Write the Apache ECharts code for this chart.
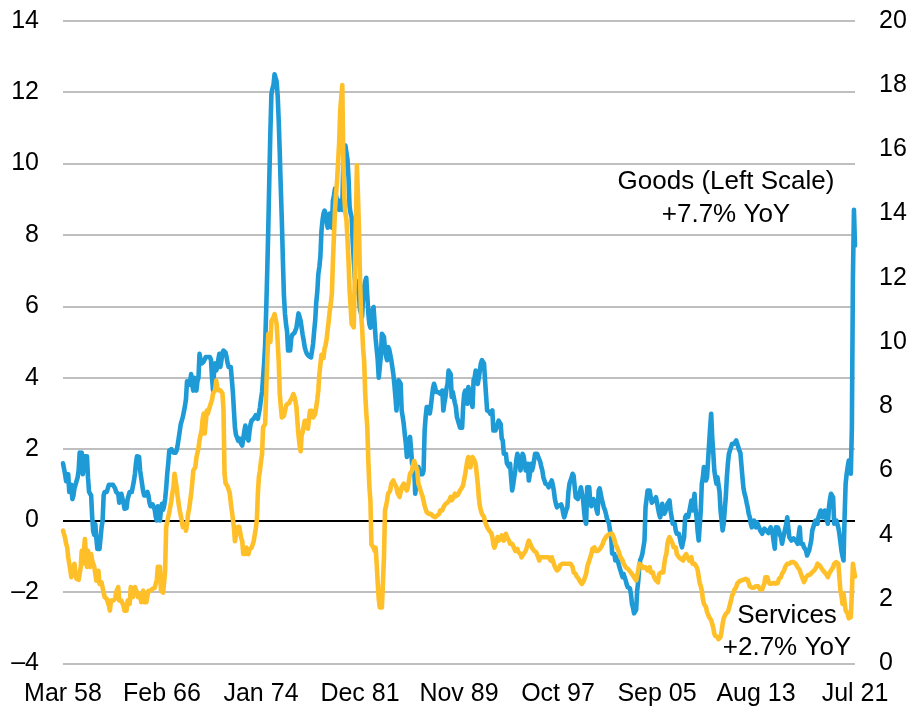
<!DOCTYPE html>
<html><head><meta charset="utf-8">
<script src="https://cdn.jsdelivr.net/npm/echarts@6/dist/echarts.min.js"></script>
<style>html,body{margin:0;padding:0;background:#fff}#c{width:911px;height:710px}</style>
</head><body><div id="c"></div>
<script>
const startYear = 1958, startMonth = 2; // March
const monthNames = ['Jan','Feb','Mar','Apr','May','Jun','Jul','Aug','Sep','Oct','Nov','Dec'];
const tickLabels = ['Mar 58','Feb 66','Jan 74','Dec 81','Nov 89','Oct 97','Sep 05','Aug 13','Jul 21'];
const leftTicks = {min: -4, max: 14, interval: 2};
const rightTicks = {min: 0, max: 20, interval: 2};

// Goods, YoY % (left scale)
const goods = [
1.6,1.6,1.3,1.1,1.2,1.3,0.8,0.9,1.0,0.6,0.7,0.9,
1.0,1.1,1.2,1.4,1.9,1.8,1.9,1.3,1.5,1.8,1.8,1.8,
1.2,0.8,0.8,0.7,0.1,-0.3,-0.4,-0.1,-0.5,-0.8,-0.8,-0.8,
-0.5,-0.2,0.0,0.7,0.8,0.75,0.8,0.9,1.0,1.0,1.0,0.95,
1.0,1.0,0.9,0.8,0.8,0.75,0.5,0.6,0.75,0.75,0.5,0.33,
0.33,0.35,0.6,0.7,0.8,0.8,0.8,0.85,1.1,1.3,1.6,1.8,
1.8,1.78,1.4,1.2,1.0,0.8,0.7,0.65,0.7,0.8,0.7,0.5,
0.4,0.37,0.45,0.5,0.3,0.1,0.0,0.4,0.2,0.0,0.3,0.47,
0.3,0.4,0.6,0.9,1.3,1.6,1.96,2.0,2.0,2.0,1.9,1.87,
1.9,1.96,2.1,2.3,2.5,2.7,2.8,2.9,2.94,3.2,3.4,3.9,
3.9,3.8,3.9,4.1,3.8,3.64,4.0,3.8,3.64,3.9,4.0,4.67,
4.5,4.4,4.4,4.45,4.5,4.58,4.58,4.58,4.58,4.58,4.5,4.0,
3.64,4.2,4.4,4.2,4.3,4.5,4.67,4.3,4.48,4.7,4.76,4.76,
4.7,4.57,4.4,4.3,4.3,4.3,4.25,3.6,3.1,2.6,2.4,2.33,
2.24,2.3,2.2,2.15,2.1,2.1,2.5,2.66,2.46,2.3,2.24,2.5,
2.7,2.8,2.8,2.85,2.9,2.95,2.99,2.85,3.0,3.17,3.4,3.6,
4.0,4.4,4.95,5.9,7.0,8.2,9.6,10.9,11.95,12.1,12.2,12.5,
12.4,12.3,11.9,11.2,10.3,9.3,8.4,7.3,6.3,5.8,5.5,5.3,
4.76,4.76,4.76,5.1,5.2,5.2,5.25,5.3,5.4,5.6,5.8,5.7,
5.6,5.4,5.2,5.04,4.85,4.75,4.67,4.67,4.6,4.57,4.57,4.6,
4.95,5.3,5.6,6.1,6.4,6.9,7.1,7.4,8.1,8.4,8.6,8.68,
8.6,8.4,8.2,8.3,8.6,8.4,8.2,8.96,9.1,9.3,9.1,8.96,
8.8,8.7,8.96,8.9,8.7,10.1,10.3,10.5,10.5,10.1,9.6,8.8,
8.6,8.5,7.8,7.3,6.8,6.55,6.7,6.4,6.3,5.9,5.8,5.7,
6.3,6.55,6.7,6.8,6.3,5.8,5.5,5.4,5.8,5.9,5.98,5.98,
5.1,5.05,4.5,4.0,4.0,4.6,5.23,5.2,5.14,4.77,4.6,4.49,
4.86,4.8,4.77,4.5,4.3,4.1,3.8,3.46,3.08,3.5,3.93,3.9,
3.83,3.08,2.9,2.7,2.4,2.15,1.78,2.0,2.24,2.34,2.0,1.59,
1.59,1.5,0.75,1.0,1.12,1.5,1.4,1.3,1.3,1.3,1.4,2.5,
2.9,3.18,3.18,3.18,3.0,3.2,3.46,3.7,3.83,3.74,3.6,3.55,
3.6,3.64,3.55,3.6,3.64,3.08,3.3,3.46,3.7,3.83,4.2,4.15,
4.1,3.46,3.6,3.64,3.3,3.18,2.9,2.8,2.7,2.6,2.6,2.6,
3.2,3.55,3.64,3.4,3.27,3.74,3.6,3.46,3.3,3.18,3.93,4.0,
4.2,3.9,3.83,4.0,4.2,4.4,4.49,4.45,4.4,3.93,3.5,3.08,
3.08,3.05,2.99,3.0,3.08,2.52,2.52,2.52,2.6,2.7,2.8,2.75,
2.7,2.3,2.24,1.87,1.87,1.87,1.6,1.55,1.5,1.59,1.2,0.84,
1.0,1.21,1.4,1.7,1.87,1.75,1.68,1.4,1.6,1.87,1.8,1.78,
1.4,1.5,1.59,1.12,1.3,1.59,1.4,1.5,1.68,1.87,1.9,1.87,
1.78,1.75,1.64,1.5,1.4,1.2,1.12,1.03,1.07,1.0,0.93,1.0,
1.03,1.12,1.0,0.84,0.6,0.47,0.37,0.4,0.42,0.47,0.45,0.37,
0.2,0.09,0.19,0.3,0.37,0.8,1.03,1.12,1.2,1.31,1.25,1.21,
0.65,0.65,0.6,0.56,0.8,0.93,0.93,0.6,0.28,0.0,-0.09,0.93,
0.93,0.93,0.47,0.4,0.37,0.6,0.65,0.47,0.3,0.19,0.84,0.9,
0.93,0.6,0.56,0.37,0.3,0.19,0.05,0.0,-0.09,-0.3,-0.47,-0.93,
-0.93,-0.93,-1.12,-1.1,-1.03,-1.2,-1.31,-1.31,-1.5,-1.59,-1.5,-1.6,
-1.68,-1.8,-1.87,-1.87,-1.9,-2.06,-2.34,-2.45,-2.6,-2.55,-2.5,-1.96,
-1.7,-1.3,-1.1,-1.03,-0.93,-0.93,-0.56,0.37,0.6,0.84,0.84,0.84,
0.65,0.5,0.47,0.56,0.6,0.65,0.5,0.47,0.19,0.09,0.2,0.47,
0.3,0.19,0.25,0.28,0.47,0.5,0.56,0.28,0.1,-0.09,-0.09,-0.09,
-0.28,-0.37,-0.37,-0.37,-0.5,-0.65,-0.75,-0.6,-0.47,0.09,0.15,0.19,
0.1,0.09,0.4,0.56,0.28,0.5,0.75,0.3,0.09,-0.3,-0.56,-0.56,
0.28,1.03,1.2,1.5,1.3,1.12,1.21,1.21,2.15,2.6,2.99,2.33,
1.9,1.4,1.2,1.03,1.21,1.21,0.8,0.28,0.0,-0.28,-0.09,0.3,
0.65,1.2,1.59,1.87,1.9,2.05,2.15,2.15,2.15,2.2,2.24,2.15,
2.15,1.96,1.9,1.87,1.21,0.9,0.75,0.65,0.5,0.37,0.19,0.1,
-0.09,-0.19,-0.1,0.0,-0.1,-0.19,-0.05,-0.1,-0.19,-0.28,-0.3,-0.37,
-0.3,-0.23,-0.28,-0.28,-0.28,-0.35,-0.37,-0.19,-0.3,-0.37,-0.6,-0.79,
-0.19,-0.19,-0.2,-0.28,-0.4,-0.47,-0.65,-0.5,-0.37,-0.37,-0.1,0.09,
-0.2,-0.47,-0.5,-0.56,-0.56,-0.5,-0.47,-0.56,-0.6,-0.65,-0.4,-0.19,
-0.65,-0.65,-0.65,-0.75,-0.8,-0.84,-0.98,-0.9,-0.84,-0.7,-0.56,-0.28,
-0.28,-0.09,0.0,0.0,-0.09,0.1,0.19,0.28,0.2,0.09,0.2,0.28,
0.09,0.0,-0.09,0.37,0.6,0.75,0.7,0.65,-0.09,-0.05,0.0,-0.09,
-0.2,-0.37,-0.6,-0.84,-1.0,-1.12,0.09,1.03,1.3,1.5,1.68,1.5,
1.31,2.6,6.8,8.7,7.7
];

// Services, YoY % (right scale)
const services = [
4.13,4.13,3.9,3.72,3.62,3.3,3.1,2.9,2.68,2.68,2.9,3.1,
2.8,2.63,2.68,2.6,2.57,3.0,3.5,3.1,3.5,3.87,3.4,3.0,
3.5,3.2,3.0,3.4,3.2,3.1,3.0,3.0,2.57,2.7,2.88,2.47,
2.5,2.52,2.47,2.2,2.06,2.1,2.0,1.95,1.8,1.64,1.95,1.95,
1.95,1.95,2.0,2.2,2.3,2.37,1.95,1.95,1.95,1.95,1.8,1.64,
1.64,1.64,1.95,1.9,1.85,2.37,2.2,2.06,2.3,2.37,2.37,2.2,
2.06,2.1,2.16,1.9,2.1,2.26,1.9,1.9,1.9,2.1,2.26,2.26,
2.26,2.3,2.32,2.32,2.35,2.37,2.6,3.0,3.0,3.0,2.26,2.26,
2.2,2.5,2.9,4.24,4.4,4.55,4.7,4.76,5.07,5.3,5.48,5.9,
5.7,5.48,5.2,4.96,4.76,4.6,4.44,4.24,4.3,4.34,4.13,4.3,
4.65,4.8,4.86,5.28,5.6,6.0,6.05,6.1,6.4,6.4,6.7,6.94,
7.1,7.25,7.6,7.77,7.15,7.5,7.87,7.77,7.9,8.0,8.1,8.2,
8.4,8.45,8.5,8.8,8.6,8.5,8.5,8.5,8.55,8.4,7.9,5.9,
5.6,5.6,5.5,5.5,5.3,5.0,4.75,4.5,4.23,3.8,4.0,4.23,
4.28,4.25,4.23,3.9,3.8,3.4,3.4,3.4,3.6,3.5,3.4,3.55,
3.55,3.6,3.7,3.8,4.0,4.2,4.44,5.3,5.8,6.0,6.3,6.5,
7.35,7.4,7.45,8.5,9.4,10.25,10.1,10.0,10.66,10.7,10.77,10.87,
10.87,10.56,10.0,9.4,8.4,8.0,7.65,7.65,7.7,7.86,8.0,8.07,
8.07,8.1,8.17,8.2,8.28,8.38,8.3,8.17,7.97,7.5,7.1,6.8,
6.6,7.1,7.2,7.24,7.55,7.55,7.55,7.3,7.24,7.86,7.86,7.86,
7.65,7.7,7.76,7.97,8.2,8.5,9.0,9.3,9.6,9.55,9.5,9.8,
9.9,10.1,10.4,10.66,10.97,11.2,11.5,12.5,13.3,14.1,14.6,15.0,
15.6,16.2,17.2,17.6,18.0,15.6,14.5,14.0,13.8,13.2,12.5,11.6,
11.1,10.56,10.5,10.46,12.0,13.6,15.5,14.6,13.5,12.0,10.9,10.46,
9.8,9.4,8.4,7.8,7.35,6.3,5.5,5.06,3.7,3.65,3.6,3.5,
3.6,3.1,2.5,2.0,1.74,1.74,1.74,2.5,3.3,4.76,4.9,5.07,
5.28,5.3,5.38,5.59,5.6,5.69,5.6,5.59,5.48,5.3,5.28,5.18,
5.18,5.48,5.5,5.59,5.48,5.45,5.38,5.5,5.69,5.9,5.95,6.0,
6.2,6.3,6.2,6.1,6.0,5.59,5.5,5.48,5.28,5.2,5.18,4.9,
4.86,4.7,4.68,4.65,4.7,4.65,4.6,4.58,4.55,4.55,4.58,4.6,
4.6,4.65,4.76,4.76,4.76,4.86,4.9,4.96,5.0,5.0,4.96,5.1,
5.18,5.07,5.1,5.18,5.28,5.2,5.18,5.25,5.28,5.38,5.4,5.48,
5.55,5.59,5.9,6.1,6.31,6.42,6.3,6.1,6.3,6.42,6.47,6.3,
6.2,5.9,5.59,5.18,4.9,4.76,4.65,4.6,4.55,4.4,4.34,4.24,
4.2,4.13,4.13,4.05,3.93,3.7,3.6,3.7,3.8,3.93,3.82,3.87,
3.87,3.98,3.9,3.82,3.9,4.03,3.93,3.9,3.82,3.72,3.72,3.72,
3.65,3.6,3.5,3.5,3.56,3.46,3.46,3.4,3.3,3.25,3.4,3.46,
3.5,3.6,3.72,3.82,3.75,3.72,3.6,3.55,3.5,3.5,3.46,3.4,
3.3,3.2,3.3,3.3,3.3,3.3,3.3,3.35,3.3,3.3,3.3,3.25,
3.2,3.3,3.2,3.1,3.0,3.0,2.89,2.9,2.95,3.05,3.05,3.1,
3.1,3.1,3.1,3.1,3.1,3.1,3.1,3.1,3.05,3.0,2.83,2.8,
2.78,2.7,2.68,2.62,2.55,2.52,2.47,2.5,2.58,2.7,2.78,2.99,
3.1,3.15,3.3,3.4,3.56,3.6,3.61,3.5,3.5,3.5,3.5,3.55,
3.61,3.65,3.72,3.82,3.88,3.93,3.98,4.0,4.03,4.03,4.03,4.03,
3.95,3.87,3.72,3.65,3.61,3.5,3.4,3.3,3.25,3.2,3.1,3.05,
2.99,2.97,2.94,2.89,2.86,2.83,2.78,2.73,2.68,2.62,2.58,2.73,
2.9,3.1,3.07,3.05,2.99,2.97,2.94,2.99,2.95,2.89,2.94,2.99,
2.83,2.83,2.83,2.7,2.68,2.58,2.55,2.52,2.78,2.8,2.83,2.83,
2.83,3.1,3.3,3.4,3.72,3.85,3.93,3.87,3.8,3.72,3.61,3.61,
3.61,3.4,3.35,3.3,3.25,3.25,3.2,3.2,3.3,3.35,3.4,3.3,
3.25,3.2,3.25,3.3,3.1,3.1,3.1,3.1,3.0,2.9,2.7,2.5,
2.4,2.27,2.0,1.85,1.8,1.75,1.6,1.54,1.44,1.4,1.34,1.23,
1.1,0.92,0.85,0.82,0.82,0.75,0.72,0.82,1.0,1.23,1.4,1.44,
1.54,1.55,1.6,1.7,1.75,1.96,2.1,2.17,2.27,2.3,2.37,2.48,
2.5,2.55,2.58,2.58,2.6,2.6,2.58,2.63,2.6,2.6,2.63,2.4,
2.35,2.35,2.4,2.35,2.4,2.4,2.35,2.4,2.35,2.3,2.3,2.3,
2.4,2.48,2.68,2.68,2.68,2.55,2.48,2.48,2.48,2.48,2.5,2.48,
2.48,2.5,2.5,2.63,2.65,2.68,2.79,2.85,2.89,3.0,3.05,3.1,
3.1,3.1,3.1,3.15,3.2,3.15,3.1,3.1,3.05,2.99,2.99,2.9,
2.79,2.7,2.68,2.53,2.6,2.68,2.68,2.75,2.79,2.76,2.74,2.84,
2.86,2.89,2.95,3.0,3.1,3.08,3.05,2.99,2.95,2.89,2.86,2.84,
2.79,2.75,2.68,2.79,2.85,2.89,2.95,2.99,3.1,3.12,3.15,3.1,
3.1,3.1,2.27,2.1,1.85,2.17,1.9,1.65,1.6,1.54,1.4,1.34,
1.44,2.2,3.1,2.9,2.7
];

const annotations = {
  goods: ['Goods (Left Scale)', '+7.7% YoY'],
  services: ['Services', '+2.7% YoY']
};

const categories = goods.map((_, i) => {
  const m = startMonth + i;
  const y = startYear + Math.floor(m / 12);
  return monthNames[m % 12] + ' ' + String(y % 100).padStart(2, '0');
});

const FONT = '"Liberation Sans", Arial, Helvetica, sans-serif';
const gridColors = [];
for (let v = leftTicks.min; v <= leftTicks.max; v += leftTicks.interval) {
  gridColors.push(v === 0 ? '#000000' : '#BFBFBF');
}

const chart = echarts.init(document.getElementById('c'), null, {renderer: 'canvas'});
chart.setOption({
  animation: false,
  backgroundColor: '#ffffff',
  textStyle: {fontFamily: FONT},
  grid: {left: 63, right: 56, top: 20.7, bottom: 46.7, containLabel: false},
  xAxis: {
    type: 'category',
    data: categories,
    boundaryGap: false,
    axisLine: {show: false},
    axisTick: {show: false},
    splitLine: {show: false},
    axisLabel: {
      interval: (idx, val) => tickLabels.includes(val),
      color: '#000', fontSize: 25, fontFamily: FONT, margin: 18,
      hideOverlap: false
    }
  },
  yAxis: [{
    type: 'value',
    min: leftTicks.min, max: leftTicks.max, interval: leftTicks.interval,
    axisLine: {show: false}, axisTick: {show: false},
    axisLabel: {
      color: '#000', fontSize: 25, fontFamily: FONT, margin: 24,
      formatter: v => (v < 0 ? '\u2013' + Math.abs(v) : String(v))
    },
    splitLine: {show: true, lineStyle: {color: gridColors, width: 2}}
  }, {
    type: 'value',
    min: rightTicks.min, max: rightTicks.max, interval: rightTicks.interval,
    axisLine: {show: false}, axisTick: {show: false},
    axisLabel: {color: '#000', fontSize: 25, fontFamily: FONT, margin: 24},
    splitLine: {show: false}
  }],
  series: [{
    name: 'Goods',
    type: 'line',
    yAxisIndex: 0,
    data: goods,
    showSymbol: false,
    symbol: 'none',
    z: 3,
    lineStyle: {color: '#1E9BD7', width: 4.6, join: 'round', cap: 'round'},
    itemStyle: {color: '#1E9BD7'}
  }, {
    name: 'Services',
    type: 'line',
    yAxisIndex: 1,
    data: services,
    showSymbol: false,
    symbol: 'none',
    z: 4,
    lineStyle: {color: '#FFBF28', width: 4.6, join: 'round', cap: 'round'},
    itemStyle: {color: '#FFBF28'}
  }],
  graphic: [
    {type: 'text', x: 726, y: 182, z: 10, style: {text: annotations.goods[0], font: '26px ' + FONT, fill: '#000', textAlign: 'center', textVerticalAlign: 'middle'}},
    {type: 'text', x: 726, y: 215, z: 10, style: {text: annotations.goods[1], font: '26px ' + FONT, fill: '#000', textAlign: 'center', textVerticalAlign: 'middle'}},
    {type: 'text', x: 787, y: 616, z: 10, style: {text: annotations.services[0], font: '26px ' + FONT, fill: '#000', textAlign: 'center', textVerticalAlign: 'middle'}},
    {type: 'text', x: 787, y: 648, z: 10, style: {text: annotations.services[1], font: '26px ' + FONT, fill: '#000', textAlign: 'center', textVerticalAlign: 'middle'}}
  ]
});
</script>
</body></html>
